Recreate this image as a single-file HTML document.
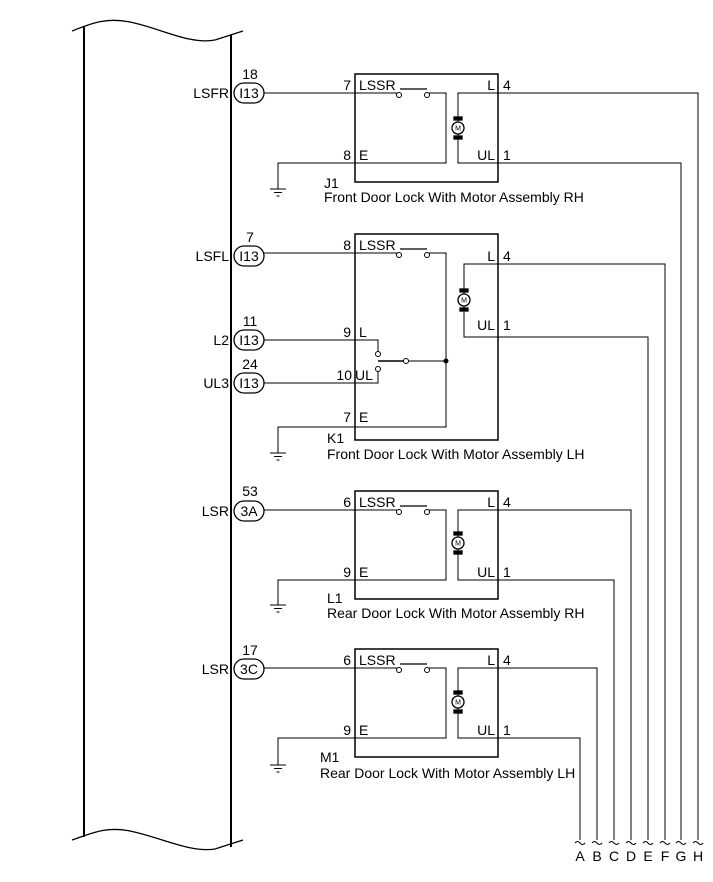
<!DOCTYPE html>
<html><head><style>
html,body{margin:0;padding:0;background:#fff;}
svg{display:block;}
text{font-family:"Liberation Sans",Arial,sans-serif;font-size:14px;fill:#000;}
</style></head><body>
<svg width="713" height="882" viewBox="0 0 713 882" xmlns="http://www.w3.org/2000/svg">
<g fill="none" stroke="#000">
<line x1="84" y1="27" x2="84" y2="837" stroke-width="2"/>
<line x1="231" y1="35" x2="231" y2="847" stroke-width="2"/>
<path d="M72 31 C90 24,105 17,130 22 C160 28,190 45,215 40 L243 31" stroke-width="1.3"/>
<path d="M72 840 C90 834,105 826,130 831 C160 837,190 853,215 849 L243 840" stroke-width="1.3"/>

<rect x="355" y="74" width="143" height="108" stroke-width="1.5"/>
<path d="M264 93 H397 M429 93 H446 V163 H278 V189" stroke-width="1"/>
<path d="M400 89 H427" stroke-width="1.3"/>
<path d="M698 840 V93 H458 V163 H681 V840" stroke-width="1"/>
<rect x="355" y="234" width="143" height="206" stroke-width="1.5"/>
<path d="M264 253 H397 M429 253 H446 V427 H278 V453" stroke-width="1"/>
<path d="M400 249 H427" stroke-width="1.3"/>
<path d="M665 840 V264 H464 V337 H648 V840" stroke-width="1"/>
<path d="M264 340 H378 V352 M264 383 H378 V371 M408 361 H446" stroke-width="1"/>
<path d="M378 361 H404" stroke-width="1.5"/>
<rect x="355" y="491" width="143" height="108" stroke-width="1.5"/>
<path d="M264 510 H397 M429 510 H446 V580 H278 V605" stroke-width="1"/>
<path d="M400 506 H427" stroke-width="1.3"/>
<path d="M631 840 V510 H458 V580 H614 V840" stroke-width="1"/>
<rect x="355" y="649" width="143" height="108" stroke-width="1.5"/>
<path d="M264 668 H397 M429 668 H446 V738 H278 V765" stroke-width="1"/>
<path d="M400 664 H427" stroke-width="1.3"/>
<path d="M597 840 V668 H458 V738 H580 V840" stroke-width="1"/>

<g fill="#fff" stroke-width="1">
<circle cx="399" cy="95" r="2.5"/><circle cx="427" cy="95" r="2.5"/>
<circle cx="399" cy="255" r="2.5"/><circle cx="427" cy="255" r="2.5"/>
<circle cx="399" cy="512" r="2.5"/><circle cx="427" cy="512" r="2.5"/>
<circle cx="399" cy="670" r="2.5"/><circle cx="427" cy="670" r="2.5"/>
<circle cx="378" cy="354" r="2.5"/><circle cx="378" cy="369" r="2.5"/><circle cx="406" cy="361" r="2.5"/>
</g>
<circle cx="446" cy="361" r="2" fill="#000"/>

<path d="M270 189 H286 M274 192.5 H282 M276.5 196 H279.5" stroke-width="1"/>
<path d="M270 453 H286 M274 456.5 H282 M276.5 460 H279.5" stroke-width="1"/>
<path d="M270 605 H286 M274 608.5 H282 M276.5 612 H279.5" stroke-width="1"/>
<path d="M270 765 H286 M274 768.5 H282 M276.5 772 H279.5" stroke-width="1"/>

<rect x="234" y="83" width="30" height="20" rx="10" stroke-width="1.3" fill="#fff"/>
<rect x="234" y="246" width="30" height="20" rx="10" stroke-width="1.3" fill="#fff"/>
<rect x="234" y="330" width="30" height="20" rx="10" stroke-width="1.3" fill="#fff"/>
<rect x="234" y="373" width="30" height="20" rx="10" stroke-width="1.3" fill="#fff"/>
<rect x="234" y="501" width="30" height="20" rx="10" stroke-width="1.3" fill="#fff"/>
<rect x="234" y="659" width="30" height="20" rx="10" stroke-width="1.3" fill="#fff"/>

<path d="M575 843 q2.5 -3 5 0 t5 0 M592 843 q2.5 -3 5 0 t5 0 M609 843 q2.5 -3 5 0 t5 0 M626 843 q2.5 -3 5 0 t5 0 M643 843 q2.5 -3 5 0 t5 0 M660 843 q2.5 -3 5 0 t5 0 M676 843 q2.5 -3 5 0 t5 0 M693 843 q2.5 -3 5 0 t5 0" stroke-width="1"/>
</g>

<g stroke="#000" stroke-width="1.3">
<g transform="translate(458,128)"><rect x="-4" y="-11" width="8" height="3" fill="#000"/><rect x="-4" y="8" width="8" height="3" fill="#000"/><circle r="6" fill="#fff"/></g>
<g transform="translate(464,300)"><rect x="-4" y="-11" width="8" height="3" fill="#000"/><rect x="-4" y="8" width="8" height="3" fill="#000"/><circle r="6" fill="#fff"/></g>
<g transform="translate(458,543)"><rect x="-4" y="-11" width="8" height="3" fill="#000"/><rect x="-4" y="8" width="8" height="3" fill="#000"/><circle r="6" fill="#fff"/></g>
<g transform="translate(458,702)"><rect x="-4" y="-11" width="8" height="3" fill="#000"/><rect x="-4" y="8" width="8" height="3" fill="#000"/><circle r="6" fill="#fff"/></g>
</g>
<g text-anchor="middle">
<text x="458" y="130.5" style="font-size:7px">M</text>
<text x="464" y="302.5" style="font-size:7px">M</text>
<text x="458" y="545.5" style="font-size:7px">M</text>
<text x="458" y="704.5" style="font-size:7px">M</text>
</g>

<g text-anchor="end">
<text x="229" y="98">LSFR</text>
<text x="229" y="261">LSFL</text>
<text x="229" y="345">L2</text>
<text x="229" y="388">UL3</text>
<text x="229" y="516">LSR</text>
<text x="229" y="674">LSR</text>
</g>
<g text-anchor="middle">
<text x="250" y="79">18</text><text x="249" y="98">I13</text>
<text x="250" y="242">7</text><text x="249" y="261">I13</text>
<text x="250" y="326">11</text><text x="249" y="345">I13</text>
<text x="250" y="369">24</text><text x="249" y="388">I13</text>
<text x="250" y="496">53</text><text x="249" y="516">3A</text>
<text x="250" y="655">17</text><text x="249" y="674">3C</text>
</g>

<g text-anchor="end">
<text x="351" y="90">7</text><text x="351" y="160">8</text>
<text x="351" y="250">8</text><text x="351" y="337">9</text><text x="352" y="380">10</text><text x="351" y="422">7</text>
<text x="351" y="507">6</text><text x="351" y="577">9</text>
<text x="351" y="665">6</text><text x="351" y="735">9</text>
</g>
<g>
<text x="359" y="90">LSSR</text><text x="359" y="160">E</text>
<text x="359" y="250">LSSR</text><text x="359" y="337">L</text><text x="355" y="380">UL</text><text x="359" y="422">E</text>
<text x="359" y="507">LSSR</text><text x="359" y="577">E</text>
<text x="359" y="665">LSSR</text><text x="359" y="735">E</text>
</g>
<g text-anchor="end">
<text x="495" y="90">L</text><text x="495" y="160">UL</text>
<text x="495" y="261">L</text><text x="495" y="330">UL</text>
<text x="495" y="507">L</text><text x="495" y="577">UL</text>
<text x="495" y="665">L</text><text x="495" y="735">UL</text>
</g>
<g>
<text x="503" y="90">4</text><text x="503" y="160">1</text>
<text x="503" y="261">4</text><text x="503" y="330">1</text>
<text x="503" y="507">4</text><text x="503" y="577">1</text>
<text x="503" y="665">4</text><text x="503" y="735">1</text>
</g>

<text x="324" y="188">J1</text>
<text x="324" y="202">Front Door Lock With Motor Assembly RH</text>
<text x="327" y="443">K1</text>
<text x="327" y="459">Front Door Lock With Motor Assembly LH</text>
<text x="327" y="603">L1</text>
<text x="327" y="618">Rear Door Lock With Motor Assembly RH</text>
<text x="320" y="762">M1</text>
<text x="320" y="778">Rear Door Lock With Motor Assembly LH</text>

<g text-anchor="middle">
<text x="580" y="861">A</text><text x="597" y="861">B</text><text x="614" y="861">C</text><text x="631" y="861">D</text>
<text x="648" y="861">E</text><text x="665" y="861">F</text><text x="681" y="861">G</text><text x="698" y="861">H</text>
</g>
</svg>
</body></html>
